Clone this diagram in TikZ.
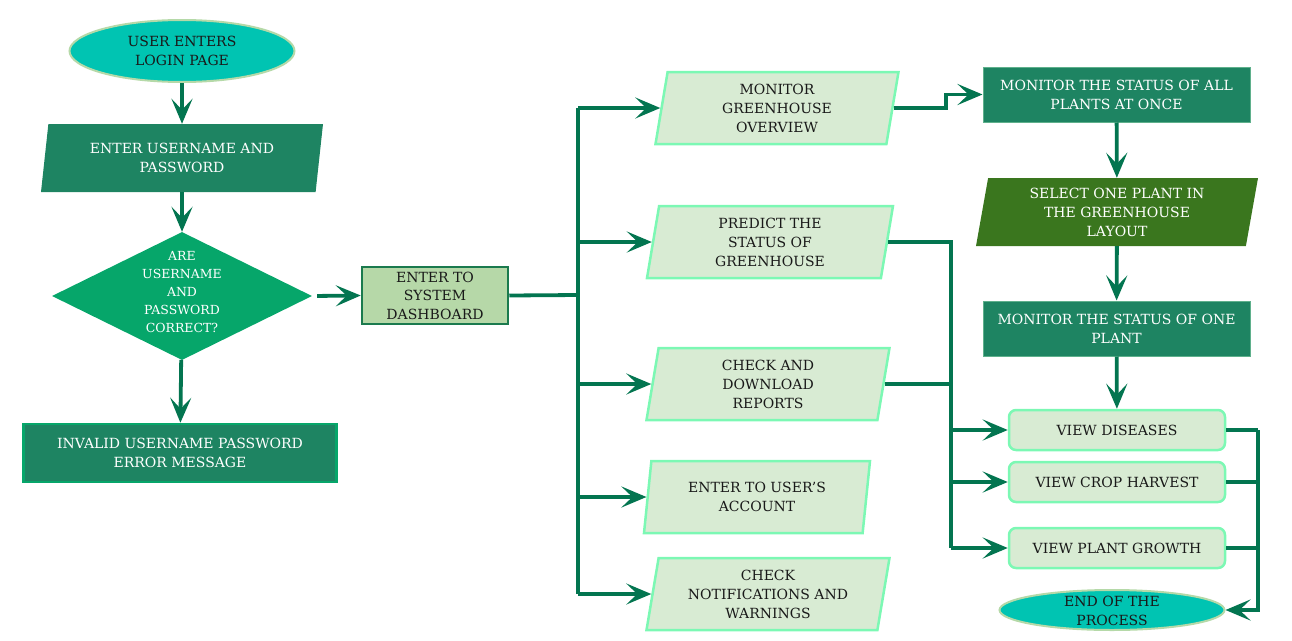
\documentclass[tikz,border=0pt]{standalone}
\usepackage{fontspec}
\setmainfont{DejaVu Serif}
\usetikzlibrary{shapes.geometric,arrows.meta,positioning}

\definecolor{lineg}{RGB}{3,117,80}
\definecolor{boxg}{RGB}{30,132,98}
\definecolor{boxedge}{RGB}{95,176,140}
\definecolor{diag}{RGB}{6,166,106}
\definecolor{teal}{RGB}{0,196,178}
\definecolor{termedge}{RGB}{181,217,168}
\definecolor{dashfill}{RGB}{182,216,168}
\definecolor{dashedge}{RGB}{27,122,78}
\definecolor{lightfill}{RGB}{216,235,211}
\definecolor{mint}{RGB}{124,248,180}
\definecolor{olive}{RGB}{58,118,30}

\tikzset{
  txtfont/.style={font=\fontsize{14}{19}\selectfont},
  line/.style={draw=lineg, line width=3.8pt},
  arr/.style={line, -{Stealth[length=25pt,width=21pt,inset=11pt]}},
  term/.style={ellipse, fill=teal, draw=termedge, line width=2pt, inner sep=0pt,
    align=center, text=black!90, txtfont},
  darkbox/.style={rectangle, fill=boxg, draw=boxedge, line width=1pt, inner sep=0pt,
    align=center, text=white, txtfont},
  slant/.style={trapezium, trapezium left angle=76, trapezium right angle=104,
    trapezium stretches body, inner sep=0pt, align=center, txtfont},
  lightslant/.style={slant, fill=lightfill, draw=mint, line width=2.5pt, text=black!90},
  viewbox/.style={rectangle, rounded corners=7pt, fill=lightfill, draw=mint, line width=2.5pt,
    minimum width=216pt, minimum height=40pt, inner sep=0pt, text=black!90, txtfont},
  decide/.style={diamond, fill=diag, inner sep=0pt, minimum width=260pt, minimum height=128pt}
}

\begin{document}
\begin{tikzpicture}[x=1pt, y=-1pt]
  \useasboundingbox (0,0) rectangle (1292,640);

  % ---- left: login column ----
  \node[term, minimum width=225pt, minimum height=62pt] (start) at (182,51) {USER ENTERS\\LOGIN PAGE};
  \node[slant, fill=boxg, text=white, minimum width=282pt, minimum height=68pt] (cred) at (182,158)
    {ENTER USERNAME AND\\PASSWORD};
  \node[decide] (check) at (182,296) {};
  \node[align=center, text=white, font=\fontsize{12.5}{18}\selectfont, inner sep=0pt] (checktxt) at (182,292)
    {ARE\\USERNAME\\AND\\PASSWORD\\CORRECT?};
  \node[darkbox, draw=diag, line width=2.5pt, minimum width=313pt, minimum height=58pt] (bad) at (180,453)
    {INVALID USERNAME PASSWORD\\ERROR MESSAGE};
  \node[rectangle, fill=dashfill, draw=dashedge, line width=2.5pt, minimum width=146pt, minimum height=57pt,
    inner sep=0pt, align=center, text=black!90, font=\fontsize{14}{18.5}\selectfont] (dash) at (435,295.5)
    {ENTER TO\\SYSTEM\\DASHBOARD};

  \draw[arr] (start) -- (cred);
  \draw[arr] (cred) -- (check);
  \draw[arr] (check) -- (bad);
  \draw[arr, shorten <=5pt] (check.east) -- (dash.west);

  % ---- middle: dashboard options ----
  \node[lightslant, minimum width=243pt, minimum height=72pt] (mgo) at (777,108) {MONITOR\\GREENHOUSE\\OVERVIEW};
  \node[lightslant, minimum width=246pt, minimum height=72pt] (pred) at (770,242) {PREDICT THE\\STATUS OF\\GREENHOUSE};
  \node[lightslant, minimum width=243pt, minimum height=72pt] (rep) at (768,384) {CHECK AND\\DOWNLOAD\\REPORTS};
  \node[lightslant, minimum width=226pt, minimum height=72pt] (acct) at (757,497) {ENTER TO USER’S\\ACCOUNT};
  \node[lightslant, minimum width=243pt, minimum height=72pt] (notif) at (768,594) {CHECK\\NOTIFICATIONS AND\\WARNINGS};

  \coordinate (busA) at (578,295);
  \draw[line] (dash.east) -- (busA);
  \draw[line] (mgo.west -| busA) -- (notif.west -| busA);
  \foreach \n in {mgo,pred,rep,acct,notif}
    \draw[arr] (\n.west -| busA) -- (\n.west);

  % ---- right: plant monitoring ----
  \node[darkbox, minimum width=267pt, minimum height=55pt] (allp) at (1116.5,94.5) {MONITOR THE STATUS OF ALL\\PLANTS AT ONCE};
  \node[slant, fill=olive, text=white, minimum width=282pt, minimum height=68pt] (sel) at (1117,212)
    {SELECT ONE PLANT IN\\THE GREENHOUSE\\LAYOUT};
  \node[darkbox, minimum width=267pt, minimum height=55pt] (onep) at (1116.5,328.5) {MONITOR THE STATUS OF ONE\\PLANT};
  \node[viewbox] (dis) at (1117,430) {VIEW DISEASES};
  \node[viewbox] (harv) at (1117,482) {VIEW CROP HARVEST};
  \node[viewbox] (grow) at (1117,548) {VIEW PLANT GROWTH};
  \node[term, minimum width=225pt, minimum height=40pt] (endp) at (1112,610) {};
  \node[align=center, text=black!90, txtfont, inner sep=0pt] (endtxt) at (1112,611) {END OF THE\\PROCESS};

  \draw[arr] (mgo.east) -- ++(52,0) |- (allp.west);
  \draw[arr] (allp) -- (sel);
  \draw[arr] (sel) -- (onep);
  \draw[arr] (onep) -- (dis);

  \coordinate (busB) at (951,548);
  \draw[line] (pred.east) -| (busB);
  \draw[line] (rep.east) -- (rep.east -| busB);
  \foreach \n in {dis,harv,grow}
    \draw[arr] (\n.west -| busB) -- (\n.west);

  \coordinate (busC) at (1258,430);
  \draw[line] (dis.east) -- (busC);
  \draw[line] (harv.east) -- (harv.east -| busC);
  \draw[line] (grow.east) -- (grow.east -| busC);
  \draw[arr] (busC) |- (endp.east);
\end{tikzpicture}
\end{document}
